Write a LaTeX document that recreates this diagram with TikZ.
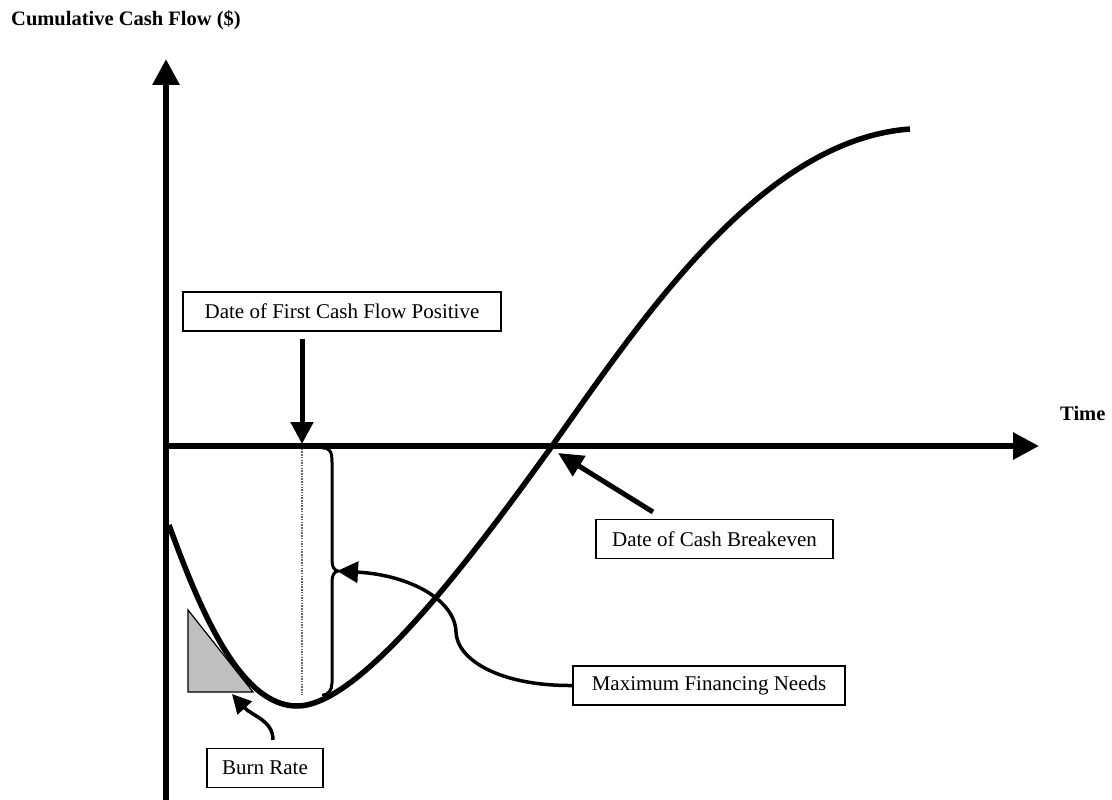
\documentclass[tikz,border=0pt]{standalone}
\usepackage{fontspec}
\setmainfont{Liberation Serif}
\usetikzlibrary{arrows.meta}
\begin{document}
\begin{tikzpicture}[x=1pt,y=-1pt,
  box/.style={draw=black,line width=1.5pt,fill=white,minimum height=39pt,inner sep=0pt,
    font=\fontsize{21}{24}\selectfont},
  ttl/.style={font=\fontsize{20.5}{24}\selectfont\bfseries,inner sep=0pt},
  axis/.style={line width=6pt,-{Triangle[length=26pt,width=26pt]}},
  curve/.style={line width=5.5pt},
  callout/.style={line width=5pt,-{Triangle[length=22pt,width=22pt]}},
  thincall/.style={line width=3.5pt,-{Triangle[length=21pt,width=21pt]}}]
\useasboundingbox (0,0) rectangle (1112,800);
% titles
\node[ttl,anchor=west] (ylab) at (11,20) {Cumulative Cash Flow (\$)};
\node[ttl,anchor=west] (xlab) at (1060,413) {Time};
% burn-rate triangle
\fill[black!25] (188,610) -- (188,692) -- (253,692) -- cycle;
\draw[line width=1.2pt] (188,610) -- (188,692) -- (253,692) -- cycle;
% dotted line
\coordinate (dtop) at (302,446);
\coordinate (dbot) at (302,695);
\draw[gray!80!black,line width=1.2pt,dash pattern=on 1.5pt off 1.2pt] (dtop) -- (dbot);
% axes
\coordinate (O) at (163,446);
\coordinate (ytip) at (166,59);
\coordinate (ybot) at (166,802);
\coordinate (xtip) at (1039,446);
\draw[axis] (ybot) -- (ytip);
\draw[axis] (O) -- (xtip);
% main curve
\coordinate (c0) at (169,525);
\coordinate (cmin) at (297,706);
\coordinate (cbe) at (552,446);
\coordinate (cend) at (910,129);
\draw[curve] (c0) .. controls (200,610) and (240,706) .. (cmin)
  .. controls (360,706) and (470,560) .. (cbe)
  .. controls (640,322) and (760,140) .. (cend);
% brace
\draw[line width=3pt,line cap=round] (323,448) .. controls (330,448) and (332,452) .. (332,462)
  -- (332,560) .. controls (332,567) and (334,570) .. (338,571)
  .. controls (334,572) and (332,575) .. (332,582)
  -- (332,683) .. controls (332,690) and (328,695) .. (323,695);
% boxes
\node[box,minimum width=318pt] (fcf) at (342,311.5) {Date of First Cash Flow Positive};
\node[box,minimum width=237pt] (be) at (714.5,539) {Date of Cash Breakeven};
\node[box,minimum width=272pt] (mfn) at (709,685.5) {Maximum Financing Needs};
\node[box,minimum width=116pt] (br) at (265,768) {Burn Rate};
% callouts
\coordinate (fcftail) at (302,339);
\coordinate (fcftip) at (302,444);
\draw[callout] (fcftail) -- (fcftip);
\coordinate (betail) at (653,512);
\coordinate (betip) at (558,453);
\draw[callout,-{Triangle[length=25pt,width=23pt]}] (betail) -- (betip);
\coordinate (bracetip) at (337,571);
\draw[thincall] (mfn.west) .. controls (500,686) and (457,660) .. (456,632)
  .. controls (455,600) and (410,575) .. (bracetip);
\coordinate (brtail) at (273,740);
\coordinate (brtip) at (232,694);
\draw[line width=3.5pt,-{Triangle[length=19pt,width=19pt]}] (brtail) .. controls (273,720) and (252,716) .. (brtip);
\end{tikzpicture}
\end{document}
